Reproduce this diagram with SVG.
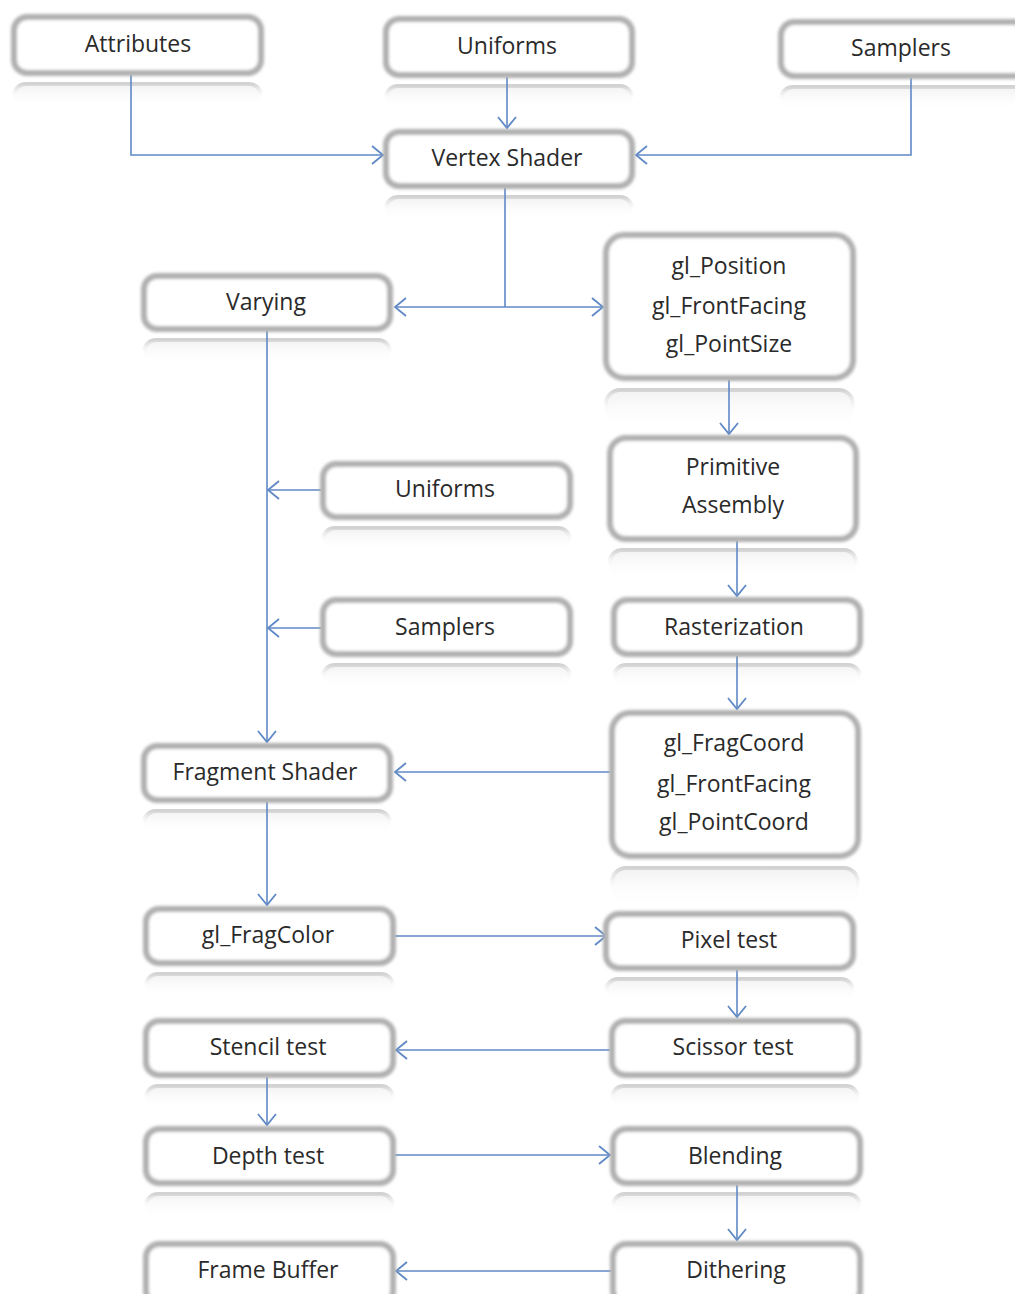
<svg xmlns="http://www.w3.org/2000/svg" width="1015" height="1294" viewBox="0 0 1015 1294">
<defs>
  <style>
    .box{fill:#ffffff;stroke:#b0b0b0;stroke-width:6;filter:url(#soft)}
    .refl{fill:url(#reflG);stroke:url(#reflS);stroke-width:4}
    .lbl{font-family:"Open Sans","Noto Sans","Liberation Sans",sans-serif;font-size:23px;font-weight:500;fill:#2a2a2a;text-anchor:middle;dominant-baseline:central}
    .c{fill:none;stroke:#5f89c6;stroke-width:1.6}
    .a{marker-end:url(#arr)}
  </style>
  <filter id="soft" x="-5%" y="-10%" width="110%" height="120%">
    <feGaussianBlur stdDeviation="1.4"/>
  </filter>
  <linearGradient id="reflG" x1="0" y1="0" x2="0" y2="1">
    <stop offset="0" stop-color="#f0f0f0" stop-opacity="0.9"/>
    <stop offset="1" stop-color="#ffffff" stop-opacity="0"/>
  </linearGradient>
  <linearGradient id="reflS" x1="0" y1="0" x2="0" y2="1">
    <stop offset="0" stop-color="#d2d2d2" stop-opacity="1"/>
    <stop offset="0.6" stop-color="#ffffff" stop-opacity="0"/>
  </linearGradient>
  <marker id="arr" markerUnits="userSpaceOnUse" markerWidth="18" markerHeight="22" refX="12" refY="10" orient="auto" viewBox="0 0 18 22">
    <path d="M1,1 L12,10 L1,19" fill="none" stroke="#5f89c6" stroke-width="1.8"/>
  </marker>
</defs>
<rect width="1015" height="1294" fill="#ffffff"/>

<g id="reflections">
  <rect class="refl" x="14" y="84" width="247" height="24" rx="12"/>
  <rect class="refl" x="386" y="86" width="246" height="24" rx="12"/>
  <rect class="refl" x="781" y="87" width="246" height="24" rx="12"/>
  <rect class="refl" x="386" y="197" width="246" height="24" rx="12"/>
  <rect class="refl" x="144" y="340" width="246" height="24" rx="12"/>
  <rect class="refl" x="606" y="390" width="247" height="40" rx="14"/>
  <rect class="refl" x="323" y="528" width="247" height="24" rx="12"/>
  <rect class="refl" x="610" y="550" width="246" height="30" rx="12"/>
  <rect class="refl" x="323" y="665" width="247" height="24" rx="12"/>
  <rect class="refl" x="614" y="665" width="246" height="24" rx="12"/>
  <rect class="refl" x="612" y="868" width="246" height="40" rx="14"/>
  <rect class="refl" x="144" y="811" width="246" height="24" rx="12"/>
  <rect class="refl" x="146" y="974" width="247" height="24" rx="12"/>
  <rect class="refl" x="606" y="979" width="247" height="24" rx="12"/>
  <rect class="refl" x="146" y="1086" width="247" height="24" rx="12"/>
  <rect class="refl" x="612" y="1086" width="246" height="24" rx="12"/>
  <rect class="refl" x="146" y="1194" width="247" height="24" rx="12"/>
  <rect class="refl" x="613" y="1194" width="247" height="24" rx="12"/>
</g>

<g id="connectors">
  <path class="c a" d="M131,75 V155 H383"/>
  <path class="c a" d="M507,77 V128"/>
  <path class="c a" d="M911,78 V155 H636"/>
  <path class="c" d="M505,188 V307"/>
  <path class="c a" d="M505,307 H395"/>
  <path class="c a" d="M505,307 H603"/>
  <path class="c a" d="M729,380 V434"/>
  <path class="c a" d="M267,331 V742"/>
  <path class="c a" d="M321,490 H268"/>
  <path class="c a" d="M321,628 H268"/>
  <path class="c a" d="M737,541 V596"/>
  <path class="c a" d="M737,656 V709"/>
  <path class="c a" d="M610,772 H395"/>
  <path class="c a" d="M267,802 V905"/>
  <path class="c a" d="M395,936 H606"/>
  <path class="c a" d="M737,970 V1017"/>
  <path class="c a" d="M610,1050 H396"/>
  <path class="c a" d="M267,1077 V1125"/>
  <path class="c a" d="M395,1155 H610"/>
  <path class="c a" d="M737,1185 V1240"/>
  <path class="c a" d="M611,1271 H396"/>
</g>

<g id="n-attributes"><rect class="box" x="14" y="17" width="247" height="56" rx="13"/><text class="lbl" x="138" y="43">Attributes</text></g>
<g id="n-uniforms-top"><rect class="box" x="386" y="19" width="246" height="56" rx="13"/><text class="lbl" x="507" y="45">Uniforms</text></g>
<g id="n-samplers-top"><rect class="box" x="781" y="22" width="246" height="54" rx="13"/><text class="lbl" x="901" y="47">Samplers</text></g>
<g id="n-vertex-shader"><rect class="box" x="386" y="132" width="246" height="54" rx="13"/><text class="lbl" x="507" y="157">Vertex Shader</text></g>
<g id="n-varying"><rect class="box" x="144" y="276" width="246" height="53" rx="13"/><text class="lbl" x="266" y="301">Varying</text></g>
<g id="n-gl-position"><rect class="box" x="606" y="235" width="247" height="143" rx="18"/>
  <text class="lbl" x="729" y="265">gl_Position</text>
  <text class="lbl" x="729" y="305">gl_FrontFacing</text>
  <text class="lbl" x="729" y="343">gl_PointSize</text></g>
<g id="n-uniforms-mid"><rect class="box" x="323" y="464" width="247" height="53" rx="13"/><text class="lbl" x="445" y="488">Uniforms</text></g>
<g id="n-primitive-assembly"><rect class="box" x="610" y="438" width="246" height="101" rx="16"/>
  <text class="lbl" x="733" y="466">Primitive</text>
  <text class="lbl" x="733" y="504">Assembly</text></g>
<g id="n-samplers-mid"><rect class="box" x="323" y="600" width="247" height="54" rx="13"/><text class="lbl" x="445" y="626">Samplers</text></g>
<g id="n-rasterization"><rect class="box" x="614" y="600" width="246" height="54" rx="13"/><text class="lbl" x="734" y="626">Rasterization</text></g>
<g id="n-gl-fragcoord"><rect class="box" x="612" y="713" width="246" height="143" rx="18"/>
  <text class="lbl" x="734" y="742">gl_FragCoord</text>
  <text class="lbl" x="734" y="783">gl_FrontFacing</text>
  <text class="lbl" x="734" y="821">gl_PointCoord</text></g>
<g id="n-fragment-shader"><rect class="box" x="144" y="746" width="246" height="54" rx="13"/><text class="lbl" x="265" y="771">Fragment Shader</text></g>
<g id="n-gl-fragcolor"><rect class="box" x="146" y="909" width="247" height="54" rx="13"/><text class="lbl" x="268" y="934">gl_FragColor</text></g>
<g id="n-pixel-test"><rect class="box" x="606" y="914" width="247" height="54" rx="13"/><text class="lbl" x="729" y="939">Pixel test</text></g>
<g id="n-stencil-test"><rect class="box" x="146" y="1021" width="247" height="54" rx="13"/><text class="lbl" x="268" y="1046">Stencil test</text></g>
<g id="n-scissor-test"><rect class="box" x="612" y="1021" width="246" height="54" rx="13"/><text class="lbl" x="733" y="1046">Scissor test</text></g>
<g id="n-depth-test"><rect class="box" x="146" y="1129" width="247" height="54" rx="13"/><text class="lbl" x="268" y="1155">Depth test</text></g>
<g id="n-blending"><rect class="box" x="613" y="1129" width="247" height="54" rx="13"/><text class="lbl" x="735" y="1155">Blending</text></g>
<g id="n-frame-buffer"><rect class="box" x="146" y="1244" width="247" height="60" rx="13"/><text class="lbl" x="268" y="1269">Frame Buffer</text></g>
<g id="n-dithering"><rect class="box" x="613" y="1244" width="247" height="60" rx="13"/><text class="lbl" x="736" y="1269">Dithering</text></g>
</svg>
